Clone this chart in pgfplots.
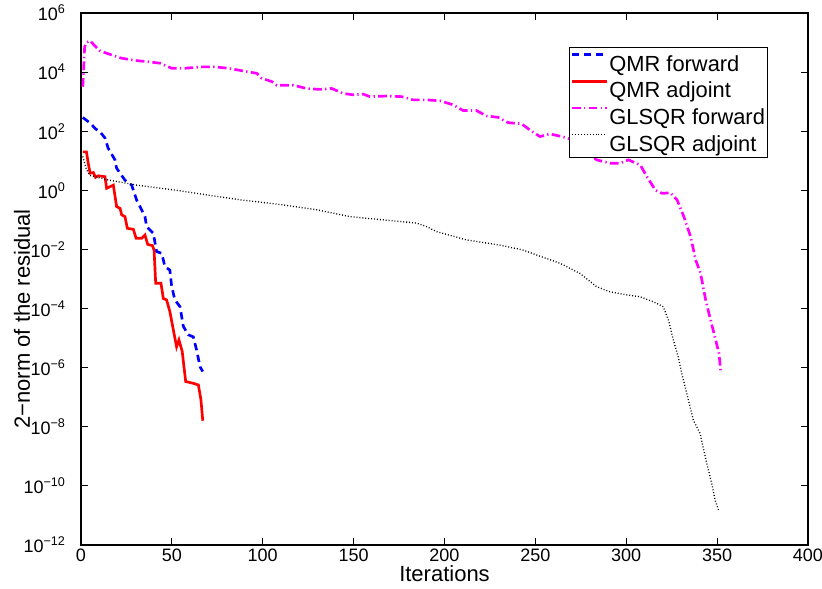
\documentclass[border=0pt]{standalone}
\usepackage{fontspec}
\setmainfont{Liberation Sans}
\usepackage{pgfplots}
\pgfplotsset{compat=1.18}
\definecolor{qmrf}{RGB}{0,0,255}
\definecolor{qmra}{RGB}{255,0,0}
\definecolor{glf}{RGB}{255,0,255}
\begin{document}
\begin{tikzpicture}
\useasboundingbox (0,0) rectangle (616.5pt,441.75pt);
\begin{axis}[
  at={(60.75pt,33pt)}, anchor=south west,
  scale only axis, width=545.25pt, height=399pt,
  xmin=0, xmax=400, ymin=1e-12, ymax=1e6,
  ymode=log, log basis y=10,
  xtick={0,50,...,400},
  ytick={1e-12,1e-10,1e-8,1e-6,1e-4,1e-2,1,1e2,1e4,1e6},
  yminorticks=false,
  tick align=inside, major tick length=5pt,
  axis line style={line width=0.8pt},
  every tick/.style={black, line width=0.6pt},
  /pgf/number format/assume math mode=true,
  tick label style={font=\fontsize{13.5pt}{16pt}\selectfont},
  xticklabel style={yshift=0.5pt},
  yticklabel style={xshift=-8pt},
  yticklabel={\pgfmathparse{int(round(\tick))}\edef\e{\pgfmathresult}\ifnum\e<0 10\textsuperscript{−\the\numexpr-\e\relax}\else 10\textsuperscript{\e}\fi},
  xlabel={Iterations},
  ylabel={2−norm of the residual},
  label style={font=\fontsize{16.5pt}{19pt}\selectfont},
  xlabel style={at={(axis description cs:0.5,-0.053)}, anchor=center},
  ylabel style={at={(axis description cs:-0.081,0.425)}, anchor=center},
  legend style={at={(rel axis cs:0.945,0.936)}, anchor=north east,
    font=\fontsize{16.4pt}{19pt}\selectfont, draw=black, line width=0.6pt,
    fill=white, inner xsep=1pt, inner ysep=1.25pt, row sep=0pt,
    nodes={inner xsep=1pt, inner ysep=1pt, text height=15.65pt, text depth=2.35pt},
    cells={anchor=west}},
  legend image code/.code={\draw[#1] (0pt,5.9pt) -- (26pt,5.9pt);},
]
\addplot[qmrf, line width=2pt, dash pattern=on 5.5pt off 3.5pt] coordinates {
(1,2.9e2)(5,1.9e2)(8,1.2e2)(10.5,9.5e1)(13.2,5.9e1)(14.9,2.7e1)(18.7,1.07e1)(19.6,5.6)(24.2,2.2)(27.9,1.5)(30.6,4.7e-1)(32.5,2.8e-1)(35.2,1.3e-1)(36.1,5.9e-2)(39.8,3.5e-2)(41.6,8.5e-3)(44.4,7.4e-3)(46.2,2.6e-3)(48.9,2.0e-3)(49.9,5.5e-4)(51.7,1.95e-4)(54.5,1.15e-4)(56.3,2.5e-5)(59,1.3e-5)(61.8,1.1e-5)(63.6,4.0e-6)(65.5,1.07e-6)(67,7.4e-7)
};
\addlegendentry{QMR forward}
\addplot[qmra, line width=2pt] coordinates {
(1,20)(3,20)(4,8.1)(5,3.8)(6.8,4.0)(8,2.75)(9.5,3.1)(13.2,2.9)(14.1,1.17)(17.8,1.5)(19.6,0.28)(21.5,0.245)(22.4,0.148)(24.2,0.129)(25.5,0.052)(28.8,0.048)(30.3,0.024)(33.4,0.024)(35.2,0.031)(36.7,0.0148)(39.3,0.0135)(40.2,0.0095)(41.1,7.2e-4)(44,7.2e-4)(45.3,2.2e-4)(47.1,1.95e-4)(48.9,7.9e-5)(50.8,1.9e-5)(52.6,5.1e-6)(53.9,8.7e-6)(55.7,3.5e-6)(57.6,3.4e-7)(61.8,2.95e-7)(64.6,2.6e-7)(66,8.1e-8)(67,1.6e-8)
};
\addlegendentry{QMR adjoint}
\addplot[glf, line width=2pt, dash pattern=on 6.5pt off 2.5pt on 1pt off 2.5pt] coordinates {
(1,3.2e3)(2,7.2e4)(3,1.0e5)(5,1.15e5)(7,8.5e4)(10.5,5.2e4)(16.9,3.8e4)(22.4,2.95e4)(30.6,2.45e4)(37,2.25e4)(43.5,2.0e4)(49.9,1.35e4)(57.2,1.35e4)(66.4,1.5e4)(73.7,1.5e4)(81,1.35e4)(92,1.02e4)(96.7,9.1e3)(99.4,6.2e3)(104.9,4.8e3)(107.7,3.6e3)(116.8,3.6e3)(124.1,2.8e3)(131.4,2.6e3)(137.9,2.8e3)(144.3,1.9e3)(149.8,1.7e3)(155.3,1.8e3)(159,1.48e3)(168.2,1.55e3)(176.4,1.48e3)(182.8,1.15e3)(190.2,1.15e3)(197.5,1.07e3)(204.8,7.8e2)(210.3,5.0e2)(217.6,5.0e2)(223.1,3.3e2)(229.5,2.95e2)(235,1.95e2)(242.4,1.78e2)(247,1.1e2)(252.5,6.6e1)(258,8.1e1)(264.5,6.6e1)(271,5.0e1)(278,2.2e1)(283.7,1.07e1)(291.2,8.3)(296.6,8.3)(301.2,1.07e1)(307.7,7.2)(311.4,2.9)(316,1.02)(319.7,0.79)(324.3,0.83)(328,0.47)(331.7,0.129)(335.4,0.027)(338.2,4.4e-3)(340.9,1.55e-3)(343.7,1.95e-4)(346.4,4.1e-5)(349.2,8.7e-6)(351,3.1e-6)(352,7.4e-7)
};
\addlegendentry{GLSQR forward}
\addplot[black, line width=1pt, dash pattern=on 0.7pt off 1.5pt] coordinates {
(1,14)(3,5)(5,3.2)(7.7,2.9)(15,2.24)(22.4,1.86)(30.6,1.5)(51.7,1.02)(70,0.69)(88.4,0.47)(104.9,0.36)(111.3,0.32)(129.7,0.22)(148,0.129)(166.3,0.1)(184.7,0.078)(190.2,0.059)(195.7,0.04)(212.2,0.021)(230.5,0.014)(243.4,0.0095)(250.7,0.0065)(257.1,0.0047)(263.5,0.0034)(274.5,0.00155)(283.7,5.5e-4)(291,3.7e-4)(300.2,2.9e-4)(307.6,2.5e-4)(314.9,1.7e-4)(320.4,1.15e-4)(323.2,4.1e-5)(325.9,8.7e-6)(328.6,2.3e-6)(330.5,6.5e-7)(333.3,1.35e-7)(336.9,1.7e-8)(340.6,6.0e-9)(344.3,5.8e-10)(347,1.23e-10)(348.9,3.3e-11)(350.7,1.55e-11)
};
\addlegendentry{GLSQR adjoint}
\end{axis}
\end{tikzpicture}
\end{document}
